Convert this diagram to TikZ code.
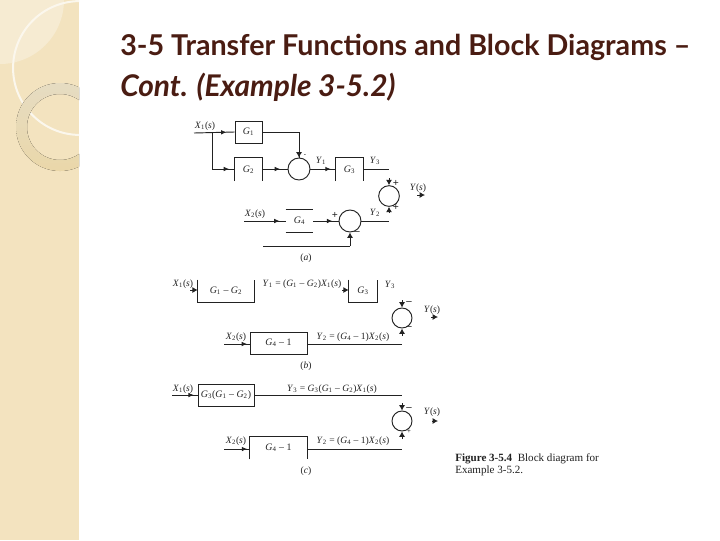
\documentclass[tikz,border=0pt]{standalone}
\usepackage{fontspec}
\setmainfont{Liberation Serif}
\newfontfamily\titlefont{Lato}
\usetikzlibrary{arrows.meta,decorations.markings}
\definecolor{side}{HTML}{F3E3BF}
\definecolor{leaf}{HTML}{F6EBD2}
\definecolor{ringtop}{HTML}{E6DCC2}
\definecolor{ringbot}{HTML}{EAD7A9}
\definecolor{titlecol}{HTML}{4A1C12}
\definecolor{ink}{HTML}{222222}
\newcommand{\vvv}[2]{\textit{#1}\textsubscript{#2}}
\tikzset{
  x=0.75pt,y=-0.75pt,
  blockbox/.style={draw=ink,line width=0.7pt,inner sep=0pt,font=\fontsize{7.4}{8}\selectfont,text=ink},
  openbox/.style={inner sep=0pt,font=\fontsize{7.4}{8}\selectfont,text=ink},
  sumcircle/.style={circle,draw=ink,line width=0.7pt,inner sep=0pt},
  wire/.style={draw=ink,line width=0.7pt},
  lab/.style={inner sep=0pt,font=\fontsize{7.2}{8}\selectfont,text=ink},
  sgn/.style={inner sep=0pt,font=\fontsize{8}{8}\selectfont\bfseries,text=ink},
  tipat/.style={postaction={decorate,decoration={markings,mark=at position #1 with {\arrow{Latex[length=4pt,width=3.5pt]}}}}},
  shortarr/.style={draw=ink,line width=0.7pt,-{Latex[length=4pt,width=4.5pt]}},
  titletext/.style={inner sep=0pt,anchor=west,text=titlecol,font=\titlefont\bfseries\fontsize{21.5}{24}\selectfont},
  caption/.style={inner sep=0pt,anchor=west,text=ink,font=\fontsize{8.3}{9.5}\selectfont}
}
\begin{document}
\begin{tikzpicture}
\useasboundingbox (0,0) rectangle (720,540);
\fill[white] (0,0) rectangle (720,540);
% sidebar
\begin{scope}
\clip (0,0) rectangle (79,540);
\fill[side] (0,0) rectangle (79,540);
\fill[leaf] (0,0) -- (64,0) arc[start angle=0,end angle=-90,radius=48pt] -- cycle;
\draw[leaf!40!white,line width=1.5pt] (80,68) circle[radius=50.2pt];
\fill[even odd rule,top color=ringtop,bottom color=ringbot] (60,127) circle[radius=33pt] (60,127) circle[radius=24.75pt];
\end{scope}
% titles
\node[titletext] (t1) at (120,47) {3-5 Transfer Functions and Block Diagrams –};
\node[titletext,font=\titlefont\bfseries\itshape\fontsize{22.4}{24}\selectfont] (t2) at (120,87) {Cont. (Example 3-5.2)};
% ---------- panel a
\node[blockbox,minimum width=20.25pt,minimum height=16.5pt] (g1) at (248.5,132) {\vvv{G}{1}};
\node[openbox,minimum width=20.25pt,minimum height=17pt] (g2) at (248.5,169.5) {\vvv{G}{2}};
\draw[wire] (g2.south west)--(g2.north west)--(g2.north east)--(g2.south east);
\node[sumcircle,minimum size=16.5pt] (s1) at (299,169) {};
\node[openbox,minimum width=20.25pt,minimum height=17pt] (g3) at (349.5,169.5) {\vvv{G}{3}};
\draw[wire] (g3.south west)--(g3.north west)--(g3.north east)--(g3.south east);
\node[openbox,minimum width=20.25pt,minimum height=16.5pt] (g4) at (299.5,221) {\vvv{G}{4}};
\draw[wire] (g4.north west)--(g4.north east) (g4.south west)--(g4.south east);
\node[sumcircle,minimum size=16.5pt] (s2) at (350,221) {};
\node[sumcircle,minimum size=15.5pt] (s3) at (389,196) {};
\coordinate (x1a) at (194,133);
\coordinate (br) at (212,133);
\coordinate (brd) at (212,169);
\coordinate (x2a) at (244,221);
\coordinate (y3a) at (389,169);
\coordinate (y2a) at (389,221);
\coordinate (fb) at (263,246);
\coordinate (fbc) at (350,246);
\coordinate (s3t) at (389,178);
\coordinate (s3b) at (389,213);
\coordinate (ya) at (417,195);
\coordinate (yb) at (425,195);
\draw[wire,tipat=0.8] (x1a) -- (g1.west);
\draw[wire] (br) -- (brd);
\draw[wire,tipat=0.75] (brd) -- (brd -| g2.west);
\draw[wire] (g1.east) -| (s1.north);
\draw[shortarr] (299,148) -- (s1.north);
\draw[wire,tipat=0.7] (s1.west -| g2.east) -- (s1.west);
\draw[wire,tipat=0.8] (s1.east) -- (s1.east -| g3.west);
\draw[wire] (s1.east -| g3.east) -- (y3a);
\draw[wire,tipat=0.85] (x2a) -- (g4.west);
\draw[wire,tipat=0.75] (g4.east) -- (s2.west);
\draw[wire] (s2.east) -- (y2a);
\draw[wire] (fb) -- (fbc);
\draw[shortarr] (fbc) -- (s2.south);
\draw[shortarr] (s3t) -- (s3.north);
\draw[shortarr] (s3b) -- (s3.south);
\draw[shortarr] (ya) -- (yb);
\node[lab] (la1) at (205,126) {\vvv{X}{1}(\textit{s})};
\node[lab] (la2) at (255,214) {\vvv{X}{2}(\textit{s})};
\node[lab] (la3) at (321,161) {\vvv{Y}{1}};
\node[lab] (la4) at (375,161) {\vvv{Y}{3}};
\node[lab] (la5) at (375,213) {\vvv{Y}{2}};
\node[lab] (la6) at (418,188) {\textit{Y}(\textit{s})};
\node[lab] (la7) at (306,258) {(\textit{a})};
\node[sgn] (sa1) at (396,183) {+};
\node[sgn] (sa2) at (396,207) {+};
\node[sgn] (sa3) at (335,215) {+};
\node[sgn] (sa4) at (357,233) {–};
\node[sgn] (sa5) at (305,156) {\tiny -};
% ---------- panel b
\node[openbox,minimum width=42pt,minimum height=16.5pt] (b1) at (226,291) {\vvv{G}{1} – \vvv{G}{2}};
\draw[wire] (b1.north west)--(b1.south west)--(b1.south east)--(b1.north east);
\node[openbox,minimum width=21pt,minimum height=16.5pt] (b2) at (363,291) {\vvv{G}{3}};
\draw[wire] (b2.north west)--(b2.south west)--(b2.south east)--(b2.north east);
\node[blockbox,minimum width=42.75pt,minimum height=16.5pt] (b3) at (278.5,343) {\vvv{G}{4} – 1};
\node[sumcircle,minimum size=15pt] (s4) at (402,318) {};
\coordinate (b1l) at (190,290);
\coordinate (b2l) at (342,290);
\coordinate (b3l) at (224,344);
\coordinate (b3r) at (402,344);
\coordinate (s4t) at (402,300);
\coordinate (s4b) at (402,336);
\coordinate (yba) at (431,317);
\coordinate (ybb) at (438,317);
\draw[shortarr] (b1l) -- (b1l -| b1.west);
\draw[shortarr] (b2l) -- (b2l -| b2.west);
\draw[wire,tipat=0.9] (b3l) -- (b3l -| b3.west);
\draw[wire] (b3r -| b3.east) -- (b3r);
\draw[shortarr] (s4t) -- (s4.north);
\draw[shortarr] (s4b) -- (s4.south);
\draw[shortarr] (yba) -- (ybb);
\node[lab] (lb1) at (183,284) {\vvv{X}{1}(\textit{s})};
\node[lab] (lb2) at (302,284) {\vvv{Y}{1} = (\vvv{G}{1} – \vvv{G}{2})\vvv{X}{1}(\textit{s})};
\node[lab] (lb3) at (390,285) {\vvv{Y}{3}};
\node[lab] (lb4) at (236,337) {\vvv{X}{2}(\textit{s})};
\node[lab] (lb5) at (353,337) {\vvv{Y}{2} = (\vvv{G}{4} – 1)\vvv{X}{2}(\textit{s})};
\node[lab] (lb6) at (432,310) {\textit{Y}(\textit{s})};
\node[lab] (lb7) at (306,366) {(\textit{b})};
\node[sgn] (sb1) at (409,303) {–};
\node[sgn] (sb2) at (409,328) {–};
% ---------- panel c
\node[blockbox,minimum width=42pt,minimum height=16.5pt] (c1) at (226,395) {\vvv{G}{3}(\vvv{G}{1} – \vvv{G}{2})};
\node[openbox,minimum width=42.75pt,minimum height=16.5pt] (c2) at (278.5,448) {\vvv{G}{4} – 1};
\draw[wire] (c2.south west)--(c2.north west)--(c2.north east)--(c2.south east);
\node[sumcircle,minimum size=15pt] (s5) at (402,421) {};
\coordinate (c1l) at (172,395);
\coordinate (c1r) at (402,395);
\coordinate (c2l) at (224,449);
\coordinate (c2r) at (402,449);
\coordinate (s5t) at (402,403);
\coordinate (s5b) at (402,439);
\coordinate (yca) at (432,421);
\coordinate (ycb) at (438,421);
\draw[wire,tipat=0.85] (c1l) -- (c1.west);
\draw[wire] (c1.east) -- (c1r);
\draw[wire,tipat=0.9] (c2l) -- (c2l -| c2.west);
\draw[wire] (c2r -| c2.east) -- (c2r);
\draw[shortarr] (s5t) -- (s5.north);
\draw[shortarr] (s5b) -- (s5.south);
\draw[shortarr] (yca) -- (ycb);
\node[lab] (lc1) at (183,389) {\vvv{X}{1}(\textit{s})};
\node[lab] (lc2) at (332,389) {\vvv{Y}{3} = \vvv{G}{3}(\vvv{G}{1} – \vvv{G}{2})\vvv{X}{1}(\textit{s})};
\node[lab] (lc3) at (236,441) {\vvv{X}{2}(\textit{s})};
\node[lab] (lc4) at (353,441) {\vvv{Y}{2} = (\vvv{G}{4} – 1)\vvv{X}{2}(\textit{s})};
\node[lab] (lc5) at (432,412) {\textit{Y}(\textit{s})};
\node[lab] (lc6) at (306,471) {(\textit{c})};
\node[sgn] (sc1) at (409,409) {–};
\node[sgn] (sc2) at (409,432) {\tiny +};
% caption
\node[caption] (cap1) at (455,459) {\textbf{Figure 3-5.4}\ \ Block diagram for};
\node[caption] (cap2) at (455,471) {Example 3-5.2.};
\end{tikzpicture}
\end{document}
